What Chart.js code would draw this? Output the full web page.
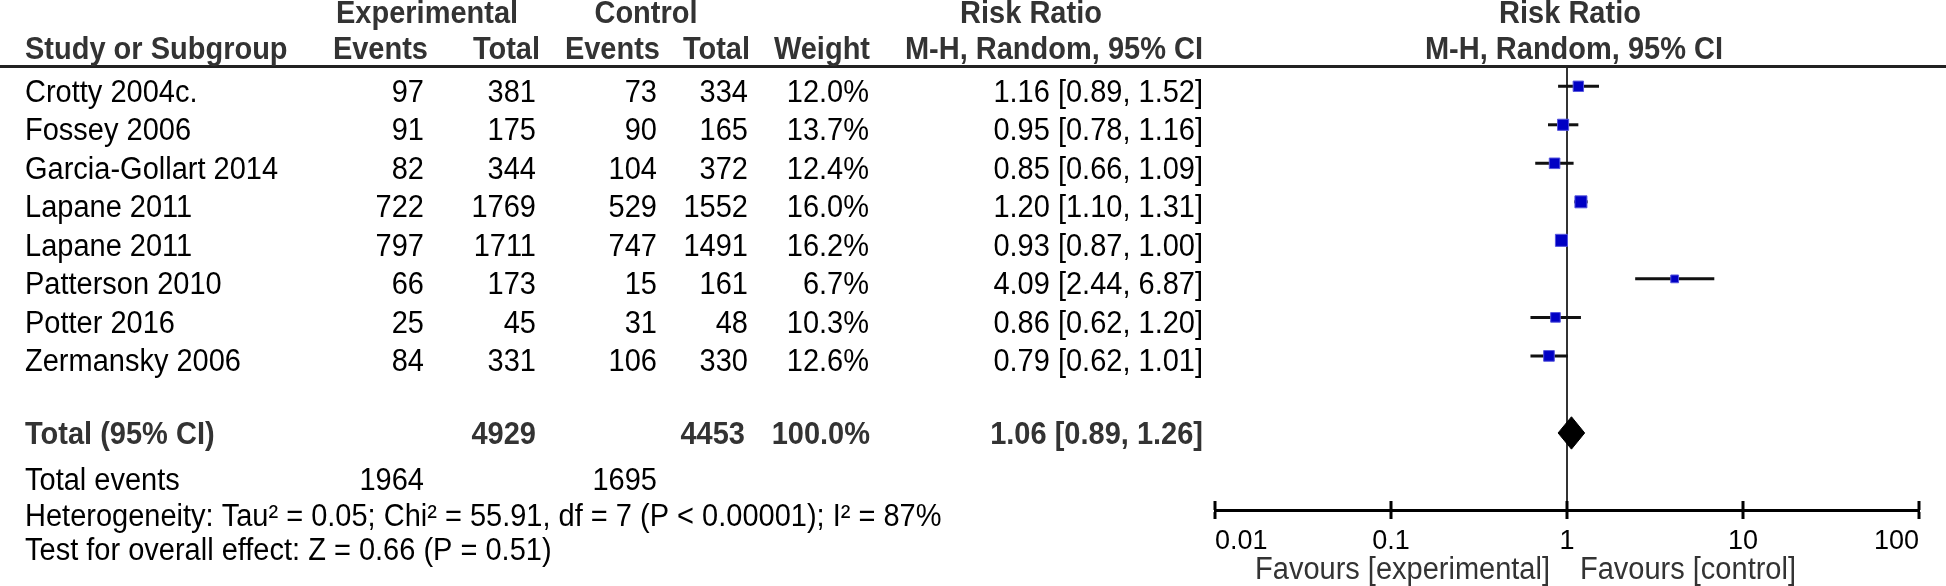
<!DOCTYPE html>
<html>
<head>
<meta charset="utf-8">
<title>Forest plot - Risk Ratio</title>
<script src="https://cdn.jsdelivr.net/npm/chart.js@4.4.1/dist/chart.umd.min.js"></script>
<style>
  html, body { margin: 0; padding: 0; background: #fff; }
  #forest { display: block; }
</style>
</head>
<body>
<canvas id="forest" width="1946" height="586"></canvas>
<script>
// study rows
const studies = ['Crotty 2004c.', 'Fossey 2006', 'Garcia-Gollart 2014', 'Lapane 2011', 'Lapane 2011', 'Patterson 2010', 'Potter 2016', 'Zermansky 2006'];
const expEvents = [97, 91, 82, 722, 797, 66, 25, 84];
const expTotal = [381, 175, 344, 1769, 1711, 173, 45, 331];
const ctlEvents = [73, 90, 104, 529, 747, 15, 31, 106];
const ctlTotal = [334, 165, 372, 1552, 1491, 161, 48, 330];
const weights = [12.0, 13.7, 12.4, 16.0, 16.2, 6.7, 10.3, 12.6];
const rr = [1.16, 0.95, 0.85, 1.20, 0.93, 4.09, 0.86, 0.79];
const rrLow = [0.89, 0.78, 0.66, 1.10, 0.87, 2.44, 0.62, 0.62];
const rrHigh = [1.52, 1.16, 1.09, 1.31, 1.00, 6.87, 1.20, 1.01];

// pooled result
const totalN = [4929, 4453];
const totalEvents = [1964, 1695];
const totalWeight = 100.0;
const totalRR = [1.06, 0.89, 1.26]; // estimate, low, high

const xTicks = [0.01, 0.1, 1, 10, 100];
const xTickLabels = ['0.01', '0.1', '1', '10', '100'];
const favours = ['Favours [experimental]', 'Favours [control]'];
const footnotes = [
  'Heterogeneity: Tau\u00b2 = 0.05; Chi\u00b2 = 55.91, df = 7 (P < 0.00001); I\u00b2 = 87%',
  'Test for overall effect: Z = 0.66 (P = 0.51)'
];

const FONT = "'Liberation Sans', Arial, sans-serif";
const TOTAL_ROW = studies.length + 1;
const f2 = v => v.toFixed(2);
const ciText = (e, l, h) => f2(e) + ' [' + f2(l) + ', ' + f2(h) + ']';

// whiskers, one line per study
const ciSets = studies.map((s, i) => ({
  type: 'line',
  data: [{ x: rrLow[i], y: i }, { x: rrHigh[i], y: i }],
  borderColor: '#111',
  borderWidth: 3,
  pointRadius: 0,
  order: 2
}));

// pooled diamond
const dh = 0.42;
const diamond = {
  type: 'line',
  data: [
    { x: totalRR[1], y: TOTAL_ROW },
    { x: totalRR[0], y: TOTAL_ROW - dh },
    { x: totalRR[2], y: TOTAL_ROW },
    { x: totalRR[0], y: TOTAL_ROW + dh },
    { x: totalRR[1], y: TOTAL_ROW }
  ],
  borderColor: '#000',
  borderWidth: 1,
  backgroundColor: '#000',
  fill: 'shape',
  pointRadius: 0,
  tension: 0,
  order: 1
};

const squares = {
  type: 'scatter',
  data: rr.map((v, i) => ({ x: v, y: i })),
  pointStyle: 'rect',
  pointRadius: ctx => 3 * Math.sqrt(weights[ctx.dataIndex]) / Math.SQRT2,
  backgroundColor: '#0000c4',
  borderColor: '#5555dd',
  borderWidth: 1,
  order: 0
};

// table text and extra axis ticks
const tablePlugin = {
  id: 'table',
  afterDraw(chart) {
    const c = chart.ctx;
    const ys = chart.scales.y;
    const xs = chart.scales.x;
    // text is a little taller than plain Arial in the original
    const txt = (s, x, y, align, bold, color, size) => {
      c.save();
      c.font = (bold ? 'bold ' : '') + (size || 29) + 'px ' + FONT;
      c.textAlign = align;
      c.textBaseline = 'middle';
      c.fillStyle = color || '#000';
      c.translate(x, y);
      c.scale(1, 1.07);
      c.fillText(s, 0, 0);
      c.restore();
    };
    c.save();

    // header line
    c.fillStyle = '#222';
    c.fillRect(0, 65, 1946, 3);

    const hc = '#333';
    txt('Experimental', 336, 14, 'left', true, hc);
    txt('Control', 646, 14, 'center', true, hc);
    txt('Risk Ratio', 1031, 14, 'center', true, hc);
    txt('Risk Ratio', 1570, 14, 'center', true, hc);
    txt('Study or Subgroup', 25, 50, 'left', true, hc);
    txt('Events', 428, 50, 'right', true, hc);
    txt('Total', 540, 50, 'right', true, hc);
    txt('Events', 660, 50, 'right', true, hc);
    txt('Total', 750, 50, 'right', true, hc);
    txt('Weight', 870, 50, 'right', true, hc);
    txt('M-H, Random, 95% CI', 1203, 50, 'right', true, hc);
    txt('M-H, Random, 95% CI', 1574, 50, 'center', true, hc);

    studies.forEach((s, i) => {
      const y = ys.getPixelForValue(i) + 7;
      txt(s, 25, y, 'left');
      txt(String(expEvents[i]), 424, y, 'right');
      txt(String(expTotal[i]), 536, y, 'right');
      txt(String(ctlEvents[i]), 657, y, 'right');
      txt(String(ctlTotal[i]), 748, y, 'right');
      txt(weights[i].toFixed(1) + '%', 869, y, 'right');
      txt(ciText(rr[i], rrLow[i], rrHigh[i]), 1203, y, 'right');
    });

    const ty = ys.getPixelForValue(TOTAL_ROW) + 2;
    txt('Total (95% CI)', 25, ty, 'left', true, hc);
    txt(String(totalN[0]), 536, ty, 'right', true, hc);
    txt(String(totalN[1]), 745, ty, 'right', true, hc);
    txt(totalWeight.toFixed(1) + '%', 870, ty, 'right', true, hc);
    txt(ciText(totalRR[0], totalRR[1], totalRR[2]), 1203, ty, 'right', true, hc);

    txt('Total events', 25, 481, 'left');
    txt(String(totalEvents[0]), 424, 481, 'right');
    txt(String(totalEvents[1]), 657, 481, 'right');
    txt(footnotes[0], 25, 517, 'left');
    txt(footnotes[1], 25, 551, 'left');

    // upper half of the axis ticks
    c.strokeStyle = '#000';
    c.lineWidth = 3;
    xTicks.forEach(v => {
      const x = xs.getPixelForValue(v);
      c.beginPath();
      c.moveTo(x, xs.top - 9);
      c.lineTo(x, xs.top);
      c.stroke();
    });

    const x1 = xs.getPixelForValue(1);
    txt(favours[0], x1 - 17, 570, 'right', false, '#333');
    txt(favours[1], x1 + 13, 570, 'left', false, '#333');
    c.restore();
  }
};

new Chart(document.getElementById('forest'), {
  data: { datasets: [squares, diamond, ...ciSets] },
  options: {
    responsive: false,
    animation: false,
    devicePixelRatio: 1,
    layout: { padding: { left: 1215, right: 27, top: 67, bottom: 0 } },
    plugins: { legend: { display: false }, tooltip: { enabled: false } },
    scales: {
      x: {
        type: 'logarithmic',
        min: 0.01,
        max: 100,
        position: 'bottom',
        afterBuildTicks: s => { s.ticks = xTicks.map(v => ({ value: v })); },
        afterFit: s => { s.height = 76; },
        border: { display: true, color: '#000', width: 3 },
        grid: {
          color: ctx => (ctx.tick && ctx.tick.value === 1) ? '#333' : 'rgba(0,0,0,0)',
          lineWidth: 2,
          drawTicks: true,
          tickLength: 9,
          tickWidth: 3,
          tickColor: '#000'
        },
        ticks: {
          align: 'inner',
          autoSkip: false,
          maxRotation: 0,
          padding: 6,
          color: '#000',
          font: { family: FONT, size: 27 },
          callback: (v, i) => xTickLabels[i]
        }
      },
      y: { type: 'linear', min: -0.5, max: 11, reverse: true, display: false }
    }
  },
  plugins: [tablePlugin]
});
</script>
</body>
</html>
